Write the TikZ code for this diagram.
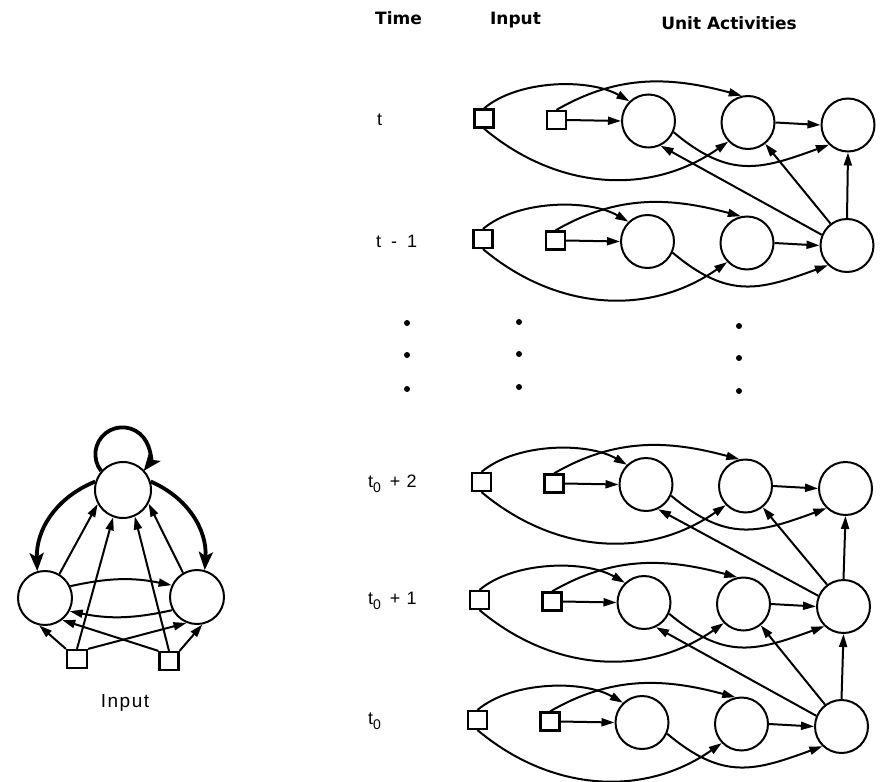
\documentclass[tikz,border=0pt]{standalone}
\usepackage{fontspec}
\setmainfont{Liberation Sans}
\newfontfamily\hdrfont{DejaVu Sans}
\newfontfamily\lblfont[LetterSpace=8]{Liberation Sans}
\usetikzlibrary{arrows.meta}
\newcommand\tsubz{t\raisebox{-5pt}{\fontsize{14}{14}\selectfont 0}}
\tikzset{
  unit/.style={circle, draw, line width=2pt, minimum size=53pt, inner sep=0pt},
  insq/.style={rectangle, draw, line width=2.2pt, minimum width=19pt, minimum height=18pt, inner sep=0pt},
  conn/.style={line width=2pt, -{Triangle[length=13pt,width=8pt]}},
  thk/.style={line width=3.8pt, -{Stealth[length=18pt,width=14pt,inset=4pt]}},
  hdr/.style={font=\hdrfont\bfseries\fontsize{17}{20}\selectfont, anchor=base},
  lbl/.style={font=\lblfont\fontsize{18}{20}\selectfont, anchor=base west, inner sep=0pt},
  dotn/.style={circle, fill, inner sep=0pt, minimum size=6pt}
}
\newcommand\mkrow[3]{%
  \begin{scope}[shift={(#2,#3)}]
    \node[insq] (#1a) at (0,0) {};
    \node[insq] (#1b) at (72.5,1.5) {};
    \node[unit] (#1u1) at (164.5,2.5) {};
    \node[unit] (#1u2) at (264,4) {};
    \node[unit] (#1u3) at (364,6.5) {};
  \end{scope}
  \draw[conn] (#1a.north) to[out=40,in=150,looseness=0.8] (#1u1.134);
  \draw[conn] (#1b.north) to[out=30,in=165] (#1u2.103);
  \draw[conn] (#1b.east) -- (#1u1.west);
  \draw[conn] (#1a.south) to[out=-40,in=215] (#1u2.224);
  \draw[conn] (#1u1.-24) to[out=-40,in=200,looseness=1.2] (#1u3.226);
  \draw[conn] (#1u2.east) -- (#1u3.west);
}
\newcommand\mkup[2]{%
  \draw[conn] (#1u3.157) -- (#2u1.296);
  \draw[conn] (#1u3.127) -- (#2u2.309);
  \draw[conn] (#1u3.north) -- (#2u3.south);
}
\begin{document}
\begin{tikzpicture}[x=1pt,y=-1pt]
\useasboundingbox (0,0) rectangle (882,781);
% headers
\node[hdr] (hT) at (398.5,25) {Time};
\node[hdr] (hI) at (515.5,25) {Input};
\node[hdr] (hU) at (729,30) {Unit Activities};
% time labels
\node[lbl] (l5) at (377,125) {t};
\node[lbl] (l4) at (376,247) {t\hspace{10pt}-\hspace{10pt}1};
\node[lbl] (l3) at (368,487) {\tsubz\hspace{9pt}+\hspace{6pt}2};
\node[lbl] (l2) at (368,604) {\tsubz\hspace{9pt}+\hspace{6pt}1};
\node[lbl] (l1) at (368,724) {\tsubz};
% rows
\mkrow{r5}{484}{118.5}
\mkrow{r4}{483}{239}
\mkrow{r3}{481.5}{482}
\mkrow{r2}{479.5}{600}
\mkrow{r1}{477.5}{720}
\mkup{r4}{r5}
\mkup{r2}{r3}
\mkup{r1}{r2}
% dots
\node[dotn] (d1) at (407,323) {};
\node[dotn] (d2) at (407,355) {};
\node[dotn] (d3) at (407,389) {};
\node[dotn] (d4) at (519,322) {};
\node[dotn] (d5) at (519,354) {};
\node[dotn] (d6) at (519,387) {};
\node[dotn] (d7) at (739,326) {};
\node[dotn] (d8) at (739,358) {};
\node[dotn] (d9) at (739,391) {};
% left network
\node[unit, minimum size=56pt] (T) at (123,490) {};
\node[unit, minimum size=54pt] (L) at (45,598) {};
\node[unit, minimum size=54pt] (R) at (197,597) {};
\node[insq, minimum width=20pt] (ls) at (77,659) {};
\node[insq] (rs) at (169,661) {};
\node[font=\lblfont\fontsize{19}{20}\selectfont] (inl) at (125,703) {Input};
\draw[thk] (T.139) arc[start angle=218, end angle=-38, radius=27pt];
\draw[thk] (T.163) to[bend right=35] (L.106);
\draw[thk] (T.17) to[bend left=35] (R.74);
\draw[conn] (L.25) to[bend left=12] (R.155);
\draw[conn] (R.208) to[bend left=12] (L.-28);
\draw[conn] (L.59) -- (T.209);
\draw[conn] (R.120) -- (T.332);
\draw[conn] (ls.north west) -- (L.258);
\draw[conn] (ls.north) -- (T.250);
\draw[conn] (ls.north east) -- (R.248);
\draw[conn] (rs.north east) -- (R.281);
\draw[conn] (rs.north) -- (T.294);
\draw[conn] (rs.north west) -- (L.308);
\end{tikzpicture}
\end{document}
